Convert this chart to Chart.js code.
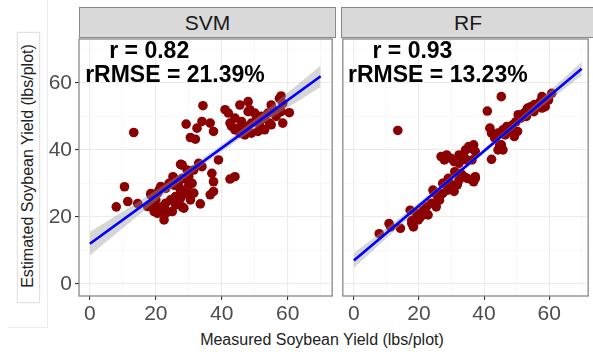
<!DOCTYPE html>
<html>
<head>
<meta charset="utf-8">
<script src="https://cdn.jsdelivr.net/npm/chart.js@4/dist/chart.umd.min.js"></script>
<style>
  html, body { margin: 0; padding: 0; background: #fff; overflow: hidden; }
  body { width: 593px; height: 352px; position: relative; font-family: "Liberation Sans", Arial, sans-serif; }
  canvas { position: absolute; top: 0; }
  #cSvm { left: 0; }
  #cRf { left: 338px; }
  .strip {
    position: absolute; top: 7px; height: 31px; box-sizing: border-box;
    background: #d9d9d9; border: 1.3px solid #888;
    color: #1a1a1a; font-size: 21px; line-height: 30px; text-align: center;
  }
  #ybox {
    position: absolute; left: 17px; top: 32px; width: 23px; height: 271px; box-sizing: border-box;
    border: 1px solid #e2e2e2; background: #fff; box-shadow: 0 0 2px rgba(0,0,0,0.08);
  }
  #ytitle {
    position: absolute; left: 28px; top: 166px; width: 300px; margin-left: -150px; margin-top: -10px;
    text-align: center; font-size: 16px; line-height: 20px; color: #222;
    transform: rotate(-90deg);
  }
  #xtitle {
    position: absolute; left: 172px; top: 330px; width: 300px;
    text-align: center; font-size: 16px; line-height: 20px; color: #222;
  }
  .faint { position: absolute; background: #ececec; }
</style>
</head>
<body>
<div class="faint" style="left:47px;top:0;width:1px;height:328px"></div>
<div class="faint" style="left:8px;top:327px;width:40px;height:1px"></div>
<div id="ybox"></div>
<div id="ytitle">Estimated Soybean Yield (lbs/plot)</div>
<canvas id="cSvm" width="337" height="330"></canvas>
<canvas id="cRf" width="255" height="330"></canvas>
<div class="strip" style="left:79px;width:257px">SVM</div>
<div class="strip" style="left:341px;width:254px">RF</div>
<div id="xtitle">Measured Soybean Yield (lbs/plot)</div>

<script>
// ---- data ----
const panels = ['SVM', 'RF'];

const gridTicks = [0, 10, 20, 30, 40, 50, 60, 70];
const majorTicks = [0, 20, 40, 60];

const svmStats = ['r = 0.82', 'rRMSE = 21.39%'];
const rfStats = ['r = 0.93', 'rRMSE = 13.23%'];

// SVM: measured vs estimated
const svmX = [13.3, 34.3, 29.2, 32.5, 34, 36.5, 37.5, 30.5, 32, 41, 42, 45.5, 48, 48.5, 58, 55, 60.5, 58.5, 55, 49,
  43, 45, 47, 49, 50.5, 52, 54, 55.5, 57.5, 58.5, 58, 54.5, 53, 51, 47, 45.5, 44, 42.5, 46, 51.5,
  56.5, 53, 44, 48, 50, 39, 44, 42.5, 37, 37.5, 37.5, 36.5, 34, 28, 30, 31, 25.5, 27, 29, 27.5,
  33, 10.5, 8, 11.5, 14.5, 18.5, 21, 23, 19.5, 21.5, 23, 22.5, 28, 33.5, 20.5, 21.5, 24, 25.5, 27, 28,
  29.5, 30, 29, 27.5, 26, 24.5, 23, 22, 21, 23.5, 25, 26, 29.5, 31.5, 31.5, 30.5, 27.5, 19.5, 19, 17.5,
  18.5, 20, 28.5, 20.5, 27.7, 25.2];
const svmY = [45.2, 53.2, 47.7, 46.5, 48.5, 48, 45.5, 43.7, 43.2, 52, 51, 53.4, 54.4, 52, 56.1, 53.4, 51.1, 48, 47.5, 45,
  47, 46.5, 47, 48, 49, 50, 51, 52, 55.4, 53.9, 51.4, 48, 46, 45.5, 44.5, 45, 46, 48, 48.5, 47.5,
  50, 49.5, 49.5, 51.4, 51, 37, 32, 31.3, 33, 30.5, 27.6, 26.6, 35, 35.5, 32, 30, 31.5, 29, 27, 35.7,
  36, 29, 23, 24.6, 24, 27, 28, 28.5, 24, 22.6, 21.1, 19.1, 23, 23.9, 27.1, 29.1, 30, 29.5, 30.5, 31.5,
  31.1, 29.5, 28, 27.1, 26.1, 25.1, 24.1, 23.1, 21.6, 21.6, 21.6, 23.6, 34, 34, 27.1, 25.1, 25.6, 21.6, 23.6, 23.1,
  26.6, 25.1, 22.6, 21.1, 35.6, 32];

// RF: measured vs estimated
const rfX = [13.5, 45.3, 41, 41.8, 42.3, 43.3, 42.3, 45.3, 45.8, 36.8, 35.8, 34.3, 33.8, 26.8, 29.8, 30.8, 32.3, 37.3, 36.8, 33.8,
  32.3, 30.3, 28.8, 27.3, 26.3, 25.3, 24.3, 22.8, 22.3, 21.3, 19.3, 17.8, 17.8, 18.3, 10.8, 11.3, 14.3, 7.8, 17.3, 19.8,
  23.8, 24.8, 25.8, 27.3, 30.8, 31.8, 36.3, 32.8, 30.3, 27.8, 34.5, 44.3, 45.8, 48.8, 49.8, 51.3, 52.3, 53.3, 54.3, 55.3,
  57.3, 58.3, 58.8, 59.8, 48.3, 50.3, 49.3, 44.8, 44.3, 28.5, 32.3, 35.3, 37.3, 36.3, 33.3, 34.8, 37.3, 27.8, 57.8, 60.8,
  57.8, 47, 50.5, 53, 55.5, 46.5, 20.5, 26, 29, 31];
const rfY = [45.8, 55.9, 51.6, 46.5, 45, 43.5, 37.2, 41.5, 40, 41.5, 40.5, 40, 38, 38, 37.5, 36.5, 36, 31.5, 30.5, 32,
  31, 29.5, 28, 27, 25, 23, 28, 20.6, 23, 22, 21, 19, 18, 17, 18, 17, 16.6, 15, 22, 19.1,
  24.1, 27.1, 25.1, 30, 27.6, 29.6, 31, 33, 29, 37, 37, 45, 46, 47.5, 48.4, 49.5, 51, 52.4, 52.9, 51.4,
  54.4, 55.4, 52.9, 54.9, 45.5, 45.5, 44, 41.5, 40, 38.5, 38.5, 41, 39.5, 37, 32.5, 31.5, 32, 30, 55.9, 56.9,
  52.5, 47, 50.5, 50, 53.5, 44.5, 20, 26.5, 31.5, 33.5];

// fitted lines and their confidence band, read at a few x values
const fitX = [0, 17.5, 35, 52.5, 70];
const svmFit = [12, 24.5, 37, 49.5, 62];
const svmLow = [8.5, 22.7, 36.0, 47.9, 58.8];
const svmUp = [15.5, 26.3, 38.0, 51.1, 65.2];
const rfFit = [7, 21.3, 35.6, 49.9, 64.2];
const rfLow = [4.8, 20.2, 34.9, 48.9, 62.2];
const rfUp = [9.2, 22.4, 36.3, 50.9, 66.2];

// ---- helpers ----
const pts = (xs, ys) => xs.map((x, i) => ({ x: x, y: ys[i] }));

const panelBorder = {
  id: 'panelBorder',
  afterDraw(chart) {
    const a = chart.chartArea, c = chart.ctx;
    c.save();
    c.strokeStyle = '#888';
    c.lineWidth = 1.3;
    c.strokeRect(a.left, a.top, a.right - a.left, a.bottom - a.top);
    c.restore();
  }
};

const statLabels = {
  id: 'statLabels',
  afterDatasetsDraw(chart, args, opts) {
    const c = chart.ctx;
    const sx = chart.scales.x, sy = chart.scales.y;
    c.save();
    c.fillStyle = '#000';
    c.font = 'bold 23px "Liberation Sans", Arial, sans-serif';
    c.textAlign = 'center';
    c.textBaseline = 'middle';
    opts.lines.forEach((t, i) => {
      const p = opts.at[i];
      c.fillText(t, sx.getPixelForValue(p[0]), sy.getPixelForValue(p[1]));
    });
    c.restore();
  }
};

function makePanel(id, xy, fit, low, up, stats, xr, isLeft) {
  return new Chart(document.getElementById(id), {
    type: 'scatter',
    data: {
      datasets: [
        { type: 'line', data: pts(fitX, fit), borderColor: '#0000ff', borderWidth: 2.6, pointRadius: 0, fill: false },
        { type: 'line', data: pts(fitX, up), borderWidth: 0, pointRadius: 0, fill: '+1', backgroundColor: 'rgba(153,153,153,0.4)', cubicInterpolationMode: 'monotone' },
        { type: 'line', data: pts(fitX, low), borderWidth: 0, pointRadius: 0, fill: false, cubicInterpolationMode: 'monotone' },
        { data: xy, backgroundColor: '#8b0000', borderWidth: 0, pointRadius: 4.8 }
      ]
    },
    options: {
      responsive: false,
      animation: false,
      layout: { padding: isLeft ? { top: 39, right: 2, left: 0, bottom: 0 } : { top: 39, right: 1, left: 3, bottom: 0 } },
      plugins: {
        legend: { display: false },
        tooltip: { enabled: false },
        statLabels: { lines: stats, at: [[18, 69.3], [25.8, 62.2]] }
      },
      scales: {
        x: {
          type: 'linear', min: xr[0], max: xr[1],
          afterBuildTicks: s => { s.ticks = gridTicks.map(v => ({ value: v })); },
          afterFit: s => { s.height = 34; },
          border: { display: false },
          grid: {
            color: c => majorTicks.includes(c.tick.value) ? '#ebebeb' : '#f4f4f4',
            lineWidth: c => majorTicks.includes(c.tick.value) ? 1.1 : 0.6,
            tickColor: c => majorTicks.includes(c.tick.value) ? '#333' : 'rgba(0,0,0,0)',
            tickLength: 4
          },
          ticks: {
            autoSkip: false, maxRotation: 0, padding: 2,
            color: '#4d4d4d', font: { size: 21, family: '"Liberation Sans", Arial, sans-serif' },
            callback: v => majorTicks.includes(v) ? String(v) : ''
          }
        },
        y: {
          type: 'linear', min: -3.6, max: 73.1,
          afterBuildTicks: s => { s.ticks = gridTicks.map(v => ({ value: v })); },
          afterFit: s => { s.width = isLeft ? 79 : 0; },
          border: { display: false },
          grid: {
            color: c => majorTicks.includes(c.tick.value) ? '#ebebeb' : '#f4f4f4',
            lineWidth: c => majorTicks.includes(c.tick.value) ? 1.1 : 0.6,
            tickColor: c => isLeft && majorTicks.includes(c.tick.value) ? '#333' : 'rgba(0,0,0,0)',
            drawTicks: isLeft,
            tickLength: 4
          },
          ticks: {
            display: isLeft, autoSkip: false, padding: 3,
            color: '#4d4d4d', font: { size: 21, family: '"Liberation Sans", Arial, sans-serif' },
            callback: v => majorTicks.includes(v) ? String(v) : ''
          }
        }
      }
    },
    plugins: [panelBorder, statLabels]
  });
}

makePanel('cSvm', pts(svmX, svmY), svmFit, svmLow, svmUp, svmStats, [-3.3, 73.5], true);
makePanel('cRf', pts(rfX, rfY), rfFit, rfLow, rfUp, rfStats, [-3.4, 72.0], false);
</script>
</body>
</html>
